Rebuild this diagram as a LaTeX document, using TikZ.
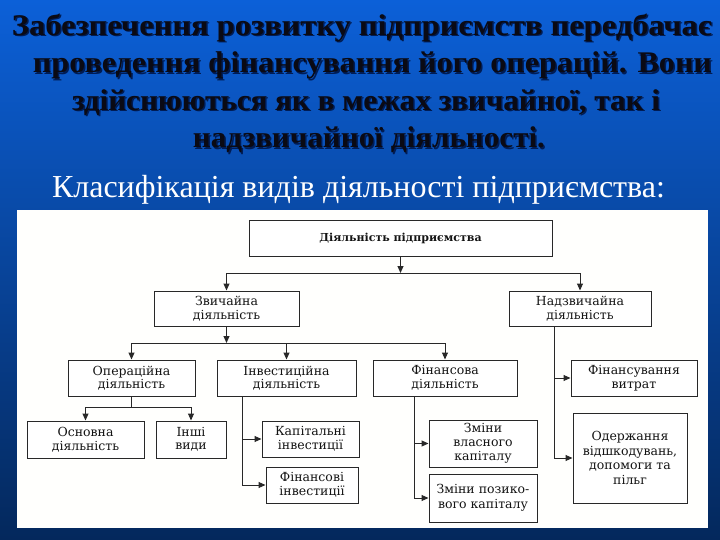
\documentclass[tikz,border=0pt]{standalone}
\usepackage{fontspec}
\setmainfont{Liberation Serif}
\newfontfamily\diagfont{DejaVu Serif}
\usetikzlibrary{arrows.meta,calc}
\definecolor{bgtop}{RGB}{12,96,216}
\definecolor{bgmid}{RGB}{0,72,165}
\definecolor{bgbot}{RGB}{4,40,92}
\definecolor{ttlc}{RGB}{10,10,20}
\definecolor{shd}{RGB}{0,28,85}
\definecolor{ln}{RGB}{40,40,40}
\definecolor{tx}{RGB}{20,20,20}
\definecolor{panel}{RGB}{255,255,253}
\newcommand{\ttlline}[4]{%
  \node[ttlstyle,text=shd] (#1s) at ($(#2)+(1.5,1.5)$) {\resizebox{#3pt}{\height}{#4}};
  \node[ttlstyle] (#1) at (#2) {\resizebox{#3pt}{\height}{#4}};}
\begin{document}
\begin{tikzpicture}[x=1pt,y=-1pt,
  box/.style={draw=ln,line width=1pt,fill=white,align=center,
    font=\diagfont\fontsize{12.5}{13.5}\selectfont,text=tx,inner sep=0pt},
  arr/.style={draw=ln,line width=1pt,-{Triangle[width=6pt,length=7pt]}},
  con/.style={draw=ln,line width=1pt},
  ttlstyle/.style={font=\fontsize{30}{36}\selectfont\bfseries,text=ttlc,anchor=base,inner sep=0pt},
  subttl/.style={font=\fontsize{32}{36}\selectfont,text=white,anchor=base,inner sep=0pt}]
\useasboundingbox (0,0) rectangle (720,540);
\shade[top color=bgtop, middle color=bgmid, bottom color=bgbot] (0,0) rectangle (720,540);

% title
\ttlline{t1}{362,35.5}{700}{Забезпечення розвитку підприємств передбачає}
\ttlline{t2}{372.5,73}{679}{проведення фінансування його операцій. Вони}
\ttlline{t3}{366,110.5}{588}{здійснюються як в межах звичайної, так і}
\ttlline{t4}{369,148}{352}{надзвичайної діяльності.}
\node[subttl] (t5) at (358.5,197) {\resizebox{613pt}{\height}{Класифікація видів діяльності підприємства:}};

% panel
\fill[panel] (17,210) rectangle (708,528);

% boxes
\node[box,minimum width=303,minimum height=35,font=\diagfont\bfseries\fontsize{11}{13}\selectfont] (top) at (400.5,238.5) {Діяльність підприємства};
\node[box,minimum width=145,minimum height=35] (zv) at (226.5,308.5) {Звичайна\\діяльність};
\node[box,minimum width=142,minimum height=35] (nadz) at (580,308.5) {Надзвичайна\\діяльність};
\node[box,minimum width=127,minimum height=36] (oper) at (131.5,378) {Операційна\\діяльність};
\node[box,minimum width=139,minimum height=36] (inv) at (286.5,378) {Інвестиційна\\діяльність};
\node[box,minimum width=144,minimum height=36] (fin) at (445,378) {Фінансова\\діяльність};
\node[box,minimum width=126,minimum height=36] (finv) at (634,378) {Фінансування\\витрат};
\node[box,minimum width=117,minimum height=37] (osn) at (85.5,439.5) {Основна\\діяльність};
\node[box,minimum width=70,minimum height=37] (insh) at (191,439.5) {Інші\\види};
\node[box,minimum width=97,minimum height=36] (kap) at (310.5,439) {Капітальні\\інвестиції};
\node[box,minimum width=92,minimum height=36] (fininv) at (312,485) {Фінансові\\інвестиції};
\node[box,minimum width=108,minimum height=47,font=\diagfont\fontsize{12.5}{14}\selectfont] (zvl) at (483,443.5) {Зміни\\власного\\капіталу};
\node[box,minimum width=108,minimum height=48,font=\diagfont\fontsize{12.5}{15}\selectfont] (zpoz) at (483,498) {Зміни позико-\\вого капіталу};
\node[box,minimum width=114,minimum height=90,font=\diagfont\fontsize{12.5}{14.5}\selectfont] (oderzh) at (630,458) {Одержання\\відшкодувань,\\допомоги та\\пільг};

% connectors
\coordinate (b1) at (400.5,273);
\draw[arr] (top.south) -- (b1);
\draw[arr] (b1) -| (zv);
\draw[arr] (b1) -| (nadz);
\coordinate (b2) at (226.5,343);
\draw[arr] (zv.south) -- (b2);
\draw[arr] (b2) -| (oper);
\draw[arr] (b2) -| (inv);
\draw[arr] (b2) -| (fin);
\coordinate (b3) at (131.5,407);
\draw[con] (oper.south) -- (b3);
\draw[arr] (b3) -| (osn);
\draw[arr] (b3) -| (insh);
\coordinate (vi) at (242,396);
\draw[arr] (inv.south -| vi) |- (kap);
\draw[arr] (inv.south -| vi) |- (fininv);
\coordinate (vf) at (414,396);
\draw[arr] (fin.south -| vf) |- (zvl);
\draw[arr] (fin.south -| vf) |- (zpoz);
\coordinate (vn) at (554,326);
\draw[arr] (nadz.south -| vn) |- (finv);
\draw[arr] (nadz.south -| vn) |- (oderzh);
\end{tikzpicture}
\end{document}
